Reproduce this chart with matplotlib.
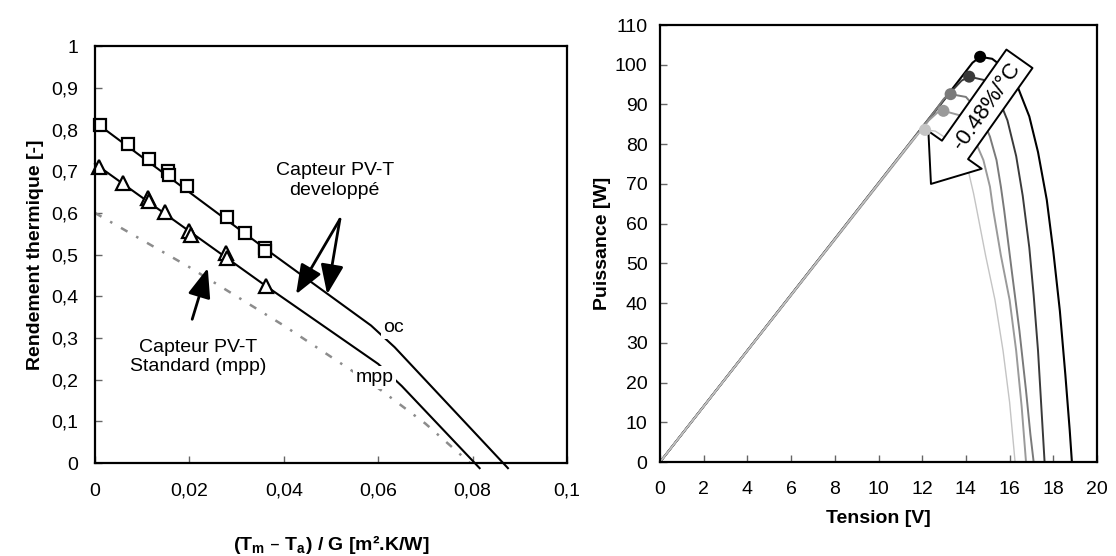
import matplotlib
matplotlib.use("Agg")
import matplotlib.pyplot as plt
import numpy as np

plt.rcParams['font.family'] = ['Liberation Sans', 'DejaVu Sans']

# ---------------- Left panel data ----------------
oc_x = [0.0011, 0.0070, 0.0115, 0.0155, 0.0156, 0.0195, 0.0280, 0.0318, 0.0360, 0.0361]
oc_y = [0.810, 0.765, 0.730, 0.700, 0.692, 0.665, 0.590, 0.553, 0.515, 0.509]
mpp_x = [0.0009, 0.0060, 0.0113, 0.0115, 0.0148, 0.0200, 0.0204, 0.0277, 0.0279, 0.0362]
mpp_y = [0.710, 0.672, 0.635, 0.628, 0.602, 0.556, 0.547, 0.505, 0.492, 0.425]
oc_line_x = [0.0, 0.0360, 0.0585, 0.0635, 0.0875]
oc_line_y = [0.818, 0.515, 0.330, 0.278, -0.012]
mpp_line_x = [0.0, 0.0362, 0.0600, 0.0650, 0.0815]
mpp_line_y = [0.718, 0.425, 0.238, 0.185, -0.012]
std_x = [0.0, 0.010, 0.020, 0.030, 0.040, 0.050, 0.060, 0.070, 0.0795]
std_y = [0.600, 0.535, 0.470, 0.400, 0.330, 0.255, 0.180, 0.095, 0.0]

left_xticks = [0, 0.02, 0.04, 0.06, 0.08, 0.1]
left_xticklabels = ["0", "0,02", "0,04", "0,06", "0,08", "0,1"]
left_yticks = [0, 0.1, 0.2, 0.3, 0.4, 0.5, 0.6, 0.7, 0.8, 0.9, 1.0]
left_yticklabels = ["0", "0,1", "0,2", "0,3", "0,4", "0,5", "0,6", "0,7", "0,8", "0,9", "1"]

# ---------------- Right panel data ----------------
curve_colors = ["#000000", "#3a3a3a", "#7a7a7a", "#9a9a9a", "#c4c4c4"]
V_black = [0, 13.6, 14.3, 14.65, 15.2, 15.8, 16.4, 16.9, 17.3, 17.7, 18.0, 18.3, 18.55, 18.75, 18.85]
P_black = [0, 95.5, 100.5, 102.0, 101.5, 99.0, 94.0, 87.0, 78.0, 66.0, 53.0, 38.0, 22.0, 8.0, 0]
V_dark = [0, 13.2, 13.8, 14.15, 14.8, 15.4, 15.9, 16.3, 16.6, 16.9, 17.1, 17.3, 17.45, 17.6]
P_dark = [0, 92.5, 96.0, 97.0, 96.2, 92.8, 86.0, 77.0, 67.0, 54.0, 42.0, 28.0, 14.0, 0]
V_grey1 = [0, 12.6, 13.0, 13.3, 14.0, 14.65, 15.1, 15.4, 15.6, 15.75, 16.1, 16.45, 16.75, 16.95, 17.1]
P_grey1 = [0, 88.5, 91.5, 92.6, 91.9, 87.8, 81.9, 76.0, 69.3, 63.4, 48.0, 33.0, 18.0, 7.0, 0]
V_grey2 = [0, 12.3, 12.7, 12.97, 13.7, 14.34, 14.8, 15.1, 15.25, 15.6, 16.0, 16.3, 16.55, 16.75]
P_grey2 = [0, 86.0, 88.0, 88.4, 87.3, 81.9, 76.0, 69.3, 63.4, 52.0, 40.8, 28.0, 14.0, 0]
V_light = [0, 11.4, 11.8, 12.13, 12.6, 13.1, 13.7, 14.1, 14.35, 14.5, 14.9, 15.33, 15.7, 16.0, 16.25]
P_light = [0, 80.0, 82.6, 83.6, 83.3, 81.5, 77.7, 73.5, 67.6, 63.4, 52.0, 40.8, 28.0, 15.0, 0]
V_curves = [V_black, V_dark, V_grey1, V_grey2, V_light]
P_curves = [P_black, P_dark, P_grey1, P_grey2, P_light]
curve_widths = [1.5, 1.4, 1.4, 1.4, 1.0]
mpp_V = [14.65, 14.15, 13.3, 12.97, 12.13]
mpp_P = [102.0, 97.0, 92.6, 88.4, 83.6]

right_xticks = list(range(0, 21, 2))
right_yticks = list(range(0, 111, 10))

# ---------------- Figure ----------------
fig = plt.figure(figsize=(11.16, 5.56), dpi=100)
axL = fig.add_axes([0.0851, 0.167, 0.4229, 0.750])
axR = fig.add_axes([0.5914, 0.169, 0.3916, 0.786])

TICK_FS = 14
LAB_FS = 14

for ax in (axL, axR):
    for s in ax.spines.values():
        s.set_linewidth(1.6)
        s.set_color("black")
    ax.tick_params(direction="in", length=5, width=1, color="#666666",
                   labelsize=TICK_FS, top=False, right=False)
    ax.tick_params(axis="x", pad=14)
axL.tick_params(axis="y", pad=12)
axR.tick_params(axis="y", pad=9)

# Left
axL.plot(std_x, std_y, color="#8c8c8c", lw=1.8, ls=(0, (3, 4, 1, 4)))
axL.plot(oc_line_x, oc_line_y, color="black", lw=1.5, clip_on=False)
axL.plot(mpp_line_x, mpp_line_y, color="black", lw=1.5, clip_on=False)
axL.plot(oc_x, oc_y, ls="none", marker="s", ms=8, mfc="white", mec="black", mew=1.6, clip_on=False)
axL.plot(mpp_x, mpp_y, ls="none", marker="^", ms=10, mfc="white", mec="black", mew=1.6, clip_on=False)
axL.set_xlim(0, 0.1)
axL.set_ylim(0, 1)
axL.set_xticks(left_xticks)
axL.set_xticklabels(left_xticklabels)
axL.set_yticks(left_yticks)
axL.set_yticklabels(left_yticklabels)
axL.set_ylabel("Rendement thermique [-]", fontsize=LAB_FS, fontweight="bold", labelpad=5)
axL.set_xlabel("(T$_\\mathregular{m}$ – T$_\\mathregular{a}$) / G [m².K/W]", fontsize=LAB_FS,
               fontweight="bold", labelpad=24)

axL.text(0.0633, 0.325, "oc", fontsize=TICK_FS, ha="center", va="center",
         bbox=dict(fc="white", ec="none", pad=2))
axL.text(0.0592, 0.205, "mpp", fontsize=TICK_FS, ha="center", va="center",
         bbox=dict(fc="white", ec="none", pad=2))
axL.text(0.0508, 0.678, "Capteur PV-T\ndeveloppé", fontsize=TICK_FS, ha="center", va="center",
         linespacing=1.2)
axL.text(0.0218, 0.255, "Capteur PV-T\nStandard (mpp)", fontsize=TICK_FS, ha="center", va="center",
         linespacing=1.2)
arrow_kw = dict(arrowstyle="-|>,head_length=0.9,head_width=0.35", color="black", lw=2,
                shrinkA=0, shrinkB=0, mutation_scale=20)
axL.annotate("", xy=(0.0426, 0.405), xytext=(0.0519, 0.585), arrowprops=arrow_kw)
axL.annotate("", xy=(0.0492, 0.405), xytext=(0.0519, 0.585), arrowprops=arrow_kw)
axL.annotate("", xy=(0.0239, 0.468), xytext=(0.0206, 0.345), arrowprops=arrow_kw)

# Right
for V, P, c, w in zip(V_curves, P_curves, curve_colors, curve_widths):
    axR.plot(V, P, color=c, lw=w)
axR.scatter(mpp_V, mpp_P, s=75, c=curve_colors, zorder=5, edgecolors="none")
axR.set_xlim(0, 20)
axR.set_ylim(0, 110)
axR.set_xticks(right_xticks)
axR.set_yticks(right_yticks)
axR.set_ylabel("Puissance [W]", fontsize=LAB_FS, fontweight="bold", labelpad=3)
axR.set_xlabel("Tension [V]", fontsize=LAB_FS, fontweight="bold", labelpad=8)

axR.annotate("", xy=(12.4, 70.0), xytext=(16.45, 101.5),
             arrowprops=dict(arrowstyle="simple,tail_width=2.3,head_width=4.7,head_length=3.0",
                             fc="white", ec="black", lw=1.4, mutation_scale=10,
                             shrinkA=0, shrinkB=0), zorder=4)
axR.text(14.95, 89.5, "-0.48%/°C", fontsize=16, rotation=54.7, ha="center", va="center",
         rotation_mode="anchor", zorder=6)

fig.savefig("out.png", dpi=100)
